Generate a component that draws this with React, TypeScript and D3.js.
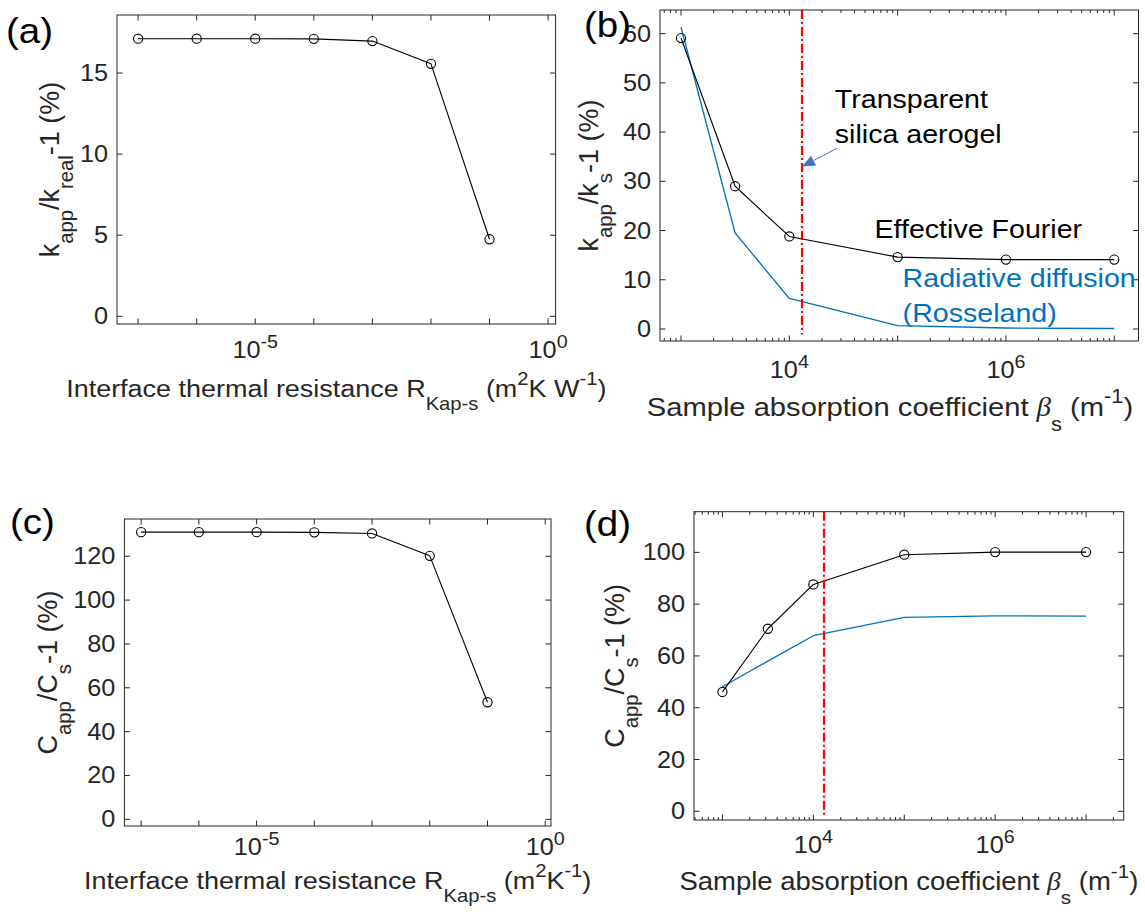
import React, { useEffect, useRef } from 'react';
import * as d3 from 'd3';

// interface resistance sweep (panels a, c)
const resistanceValues = [1e-7, 1e-6, 1e-5, 1e-4, 1e-3, 1e-2, 1e-1];
const conductivityErrorVsR = [17.12, 17.12, 17.12, 17.11, 16.97, 15.57, 4.75];
const capacityErrorVsR = [131.0, 131.0, 131.0, 130.9, 130.4, 120.2, 53.4];

// absorption coefficient sweep (panels b, d)
const absorptionValues = [1e3, 3.16e3, 1e4, 1e5, 1e6, 1e7];
const conductivityFourier = [59.1, 29.0, 18.8, 14.6, 14.1, 14.1];
const conductivityRosseland = [61.3, 19.5, 6.2, 0.7, 0.2, 0.1];
const capacityFourier = [46.1, 70.5, 87.6, 99.1, 100.1, 100.1];
const capacityRosseland = [48.1, 58.0, 67.8, 74.9, 75.5, 75.4];
const aerogelAbsorption = 1.31e4;

// ticks
const resistanceDecades = [-7, -6, -5, -4, -3, -2, -1, 0];
const resistanceLabelled = [-5, 0];
const absorptionDecades = [3, 4, 5, 6, 7];
const absorptionLabelled = [4, 6];
const ticksA = [0, 5, 10, 15];
const ticksB = [0, 10, 20, 30, 40, 50, 60];
const ticksC = [0, 20, 40, 60, 80, 100, 120];
const ticksD = [0, 20, 40, 60, 80, 100];

const SX = 1.1; // the figure is a bit wider than tall
const FONT = '"Liberation Sans", Arial, Helvetica, sans-serif';
const INK = '#262626';
const BLUE = '#0072BD';

type Piece = { t: string; sub?: boolean; sup?: boolean; greek?: boolean };

// rich text with sub/superscripts, stretched horizontally like the source
function richText(parent, x, y, pieces: Piece[], opts: any = {}) {
  const size = opts.size || 24;
  const sx = opts.rotate ? 1 : SX;
  const g = parent
    .append('g')
    .attr('transform', `translate(${x},${y}) scale(${sx},1)${opts.rotate ? ' rotate(-90)' : ''}`);
  const text = g
    .append('text')
    .attr('font-family', FONT)
    .attr('font-size', size)
    .attr('fill', opts.fill || INK)
    .attr('text-anchor', opts.anchor || 'start');
  let offset = 0;
  pieces.forEach((p) => {
    const target = p.sub ? size * (opts.subShift || 0.55) : p.sup ? -size * (opts.supShift || 0.5) : 0;
    const ts = text.append('tspan').attr('dy', target - offset).text(p.t);
    offset = target;
    if (p.sub || p.sup) ts.attr('font-size', size * (opts.small || 0.75));
    if (p.greek) ts.attr('font-family', '"Liberation Serif", serif').attr('font-style', 'italic');
  });
  return text;
}

function drawPanel(svg, cfg) {
  const { box } = cfg;
  const x = d3.scaleLog().domain(cfg.xDomain).range([box.l, box.r]);
  const y = d3.scaleLinear().domain(cfg.yDomain).range([box.b, box.t]);
  const g = svg.append('g');

  // series
  cfg.series.forEach((s) => {
    const pts = s.x.map((v, i) => [v, s.y[i]]);
    const line = d3
      .line()
      .x((d) => x(d[0]))
      .y((d) => y(d[1]));
    g.append('path')
      .attr('d', line(pts))
      .attr('fill', 'none')
      .attr('stroke', s.color)
      .attr('stroke-width', s.width || 1.1)
      .attr('stroke-linejoin', 'round');
    if (s.markers) {
      g.selectAll(null)
        .data(pts)
        .enter()
        .append('circle')
        .attr('cx', (d) => x(d[0]))
        .attr('cy', (d) => y(d[1]))
        .attr('r', 4.6)
        .attr('fill', 'none')
        .attr('stroke', s.color)
        .attr('stroke-width', 1.1);
    }
  });

  // aerogel reference line
  if (cfg.refLine) {
    g.append('line')
      .attr('x1', x(cfg.refLine.x))
      .attr('x2', x(cfg.refLine.x))
      .attr('y1', y(cfg.yDomain[1]))
      .attr('y2', y(cfg.refLine.bottom))
      .attr('stroke', '#FF0000')
      .attr('stroke-width', 2.2)
      .attr('stroke-dasharray', '9,3,2,3');
  }

  // box
  g.append('rect')
    .attr('x', box.l)
    .attr('y', box.t)
    .attr('width', box.r - box.l)
    .attr('height', box.b - box.t)
    .attr('fill', 'none')
    .attr('stroke', INK)
    .attr('stroke-width', 1);

  const tick = (x1, y1, x2, y2) =>
    g.append('line').attr('x1', x1).attr('y1', y1).attr('x2', x2).attr('y2', y2).attr('stroke', INK).attr('stroke-width', 1);

  // x ticks
  cfg.xDecades.forEach((e) => {
    const px = x(Math.pow(10, e));
    tick(px, box.b, px, box.b - 5.5);
    tick(px, box.t, px, box.t + 5.5);
  });
  if (cfg.minor) {
    const [lo, hi] = cfg.xDomain;
    for (let e = Math.floor(Math.log10(lo)); e <= Math.ceil(Math.log10(hi)); e++) {
      for (let k = 2; k <= 9; k++) {
        const v = k * Math.pow(10, e);
        if (v <= lo || v >= hi) continue;
        const px = x(v);
        tick(px, box.b, px, box.b - 3);
        tick(px, box.t, px, box.t + 3);
      }
    }
  }
  cfg.xLabelled.forEach((e) => {
    richText(g, x(Math.pow(10, e)), box.b + cfg.tickDy, [{ t: '10' }, { t: String(e), sup: true }], {
      size: 23,
      anchor: 'middle',
      supShift: 0.43,
      small: 0.78,
    });
  });

  // y ticks
  cfg.yTicks.forEach((v) => {
    const py = y(v);
    tick(box.l, py, box.l + 5.5, py);
    tick(box.r, py, box.r - 5.5, py);
    richText(g, box.l - 9, py + 8, [{ t: String(v) }], { size: 23, anchor: 'end' });
  });

  // axis labels
  const labelCx = cfg.xLabelX !== undefined ? cfg.xLabelX : (box.l + box.r) / 2;
  richText(g, labelCx, cfg.xLabelY, cfg.xLabel, { size: cfg.xLabelSize, anchor: 'middle' });
  richText(g, cfg.yLabelX, (box.t + box.b) / 2, cfg.yLabel, {
    size: 27,
    anchor: 'middle',
    rotate: true,
    subShift: 0.5,
  });

  // panel letter
  richText(g, cfg.letter.x, cfg.letter.y, [{ t: cfg.letter.t }], { size: 35, fill: '#000' });

  return { x, y, g };
}

const resistanceLabelA: Piece[] = [
  { t: 'Interface thermal resistance R' },
  { t: 'Kap-s', sub: true },
  { t: ' (m' },
  { t: '2', sup: true },
  { t: 'K W' },
  { t: '-1', sup: true },
  { t: ')' },
];
const resistanceLabelC: Piece[] = [
  { t: 'Interface thermal resistance R' },
  { t: 'Kap-s', sub: true },
  { t: ' (m' },
  { t: '2', sup: true },
  { t: 'K' },
  { t: '-1', sup: true },
  { t: ')' },
];
const absorptionLabel: Piece[] = [
  { t: 'Sample absorption coefficient ' },
  { t: 'β', greek: true },
  { t: 's', sub: true },
  { t: ' (m' },
  { t: '-1', sup: true },
  { t: ')' },
];

const App = () => {
  const svgRef = useRef<SVGSVGElement>(null);

  useEffect(() => {
    const svg = d3.select(svgRef.current);
    svg.selectAll('*').remove();
    svg.append('rect').attr('width', 1145).attr('height', 916).attr('fill', '#fff');

    // (a)
    drawPanel(svg, {
      box: { l: 117, r: 555.6, t: 15, b: 324 },
      xDomain: [Math.pow(10, -7.36), Math.pow(10, 0.128)],
      yDomain: [-0.475, 18.58],
      xDecades: resistanceDecades,
      xLabelled: resistanceLabelled,
      minor: false,
      yTicks: ticksA,
      tickDy: 34,
      xLabel: resistanceLabelA,
      xLabelSize: 24.5,
      xLabelY: 397,
      yLabel: [{ t: 'k' }, { t: 'app', sub: true }, { t: '/k' }, { t: 'real', sub: true }, { t: '-1 (%)' }],
      yLabelX: 59,
      letter: { t: '(a)', x: 6, y: 43 },
      series: [{ x: resistanceValues, y: conductivityErrorVsR, color: '#000', markers: true }],
    });

    // (b)
    const b = drawPanel(svg, {
      box: { l: 660, r: 1138.5, t: 10, b: 341 },
      xDomain: [Math.pow(10, 2.806), Math.pow(10, 7.224)],
      yDomain: [-2.44, 64.8],
      xDecades: absorptionDecades,
      xLabelled: absorptionLabelled,
      minor: true,
      yTicks: ticksB,
      tickDy: 37,
      xLabel: absorptionLabel,
      xLabelSize: 26.5,
      xLabelX: 890,
      xLabelY: 416,
      yLabel: [{ t: 'k' }, { t: 'app', sub: true }, { t: '/k' }, { t: 's', sub: true }, { t: '-1 (%)' }],
      yLabelX: 598,
      letter: { t: '(b)', x: 584, y: 37 },
      series: [
        { x: absorptionValues, y: conductivityRosseland, color: BLUE, markers: false, width: 1.3 },
        { x: absorptionValues, y: conductivityFourier, color: '#000', markers: true },
      ],
      refLine: { x: aerogelAbsorption, bottom: -1.1 },
    });

    // annotations in (b)
    const tip = [b.x(aerogelAbsorption), b.y(33.0)];
    const tail = [b.x(Math.pow(10, 4.44)), b.y(36.7)];
    const ang = Math.atan2(tail[1] - tip[1], tail[0] - tip[0]);
    const headLen = 13;
    const headW = 5.5;
    const base = [tip[0] + headLen * Math.cos(ang), tip[1] + headLen * Math.sin(ang)];
    b.g.append('line')
      .attr('x1', tail[0])
      .attr('y1', tail[1])
      .attr('x2', base[0])
      .attr('y2', base[1])
      .attr('stroke', '#4472C4')
      .attr('stroke-width', 1);
    b.g.append('polygon')
      .attr(
        'points',
        [
          tip,
          [base[0] - headW * Math.sin(ang), base[1] + headW * Math.cos(ang)],
          [base[0] + headW * Math.sin(ang), base[1] - headW * Math.cos(ang)],
        ]
          .map((p) => p.join(','))
          .join(' ')
      )
      .attr('fill', '#4472C4');

    const note = (v, val, t, fill) =>
      richText(b.g, b.x(Math.pow(10, v)), b.y(val), [{ t }], { size: 26, fill });
    note(4.42, 44.9, 'Transparent', '#000');
    note(4.42, 37.8, 'silica aerogel', '#000');
    note(4.786, 18.4, 'Effective Fourier', '#000');
    note(5.046, 8.6, 'Radiative diffusion', BLUE);
    note(5.046, 1.5, '(Rosseland)', BLUE);

    // (c)
    drawPanel(svg, {
      box: { l: 124.4, r: 551, t: 519, b: 826 },
      xDomain: [Math.pow(10, -7.29), Math.pow(10, 0.1)],
      yDomain: [-3.05, 137],
      xDecades: resistanceDecades,
      xLabelled: resistanceLabelled,
      minor: false,
      yTicks: ticksC,
      tickDy: 29,
      xLabel: resistanceLabelC,
      xLabelSize: 24.5,
      xLabelY: 889,
      yLabel: [{ t: 'C' }, { t: 'app', sub: true }, { t: '/C' }, { t: 's', sub: true }, { t: '-1 (%)' }],
      yLabelX: 57,
      letter: { t: '(c)', x: 10, y: 534 },
      series: [{ x: resistanceValues, y: capacityErrorVsR, color: '#000', markers: true }],
    });

    // (d)
    drawPanel(svg, {
      box: { l: 694, r: 1123.7, t: 511.7, b: 820 },
      xDomain: [Math.pow(10, 2.687), Math.pow(10, 7.414)],
      yDomain: [-3.36, 115.7],
      xDecades: absorptionDecades,
      xLabelled: absorptionLabelled,
      minor: true,
      yTicks: ticksD,
      tickDy: 33,
      xLabel: absorptionLabel,
      xLabelSize: 25,
      xLabelY: 890,
      yLabel: [{ t: 'C' }, { t: 'app', sub: true }, { t: '/C' }, { t: 's', sub: true }, { t: '-1 (%)' }],
      yLabelX: 624,
      letter: { t: '(d)', x: 584, y: 536 },
      series: [
        { x: absorptionValues, y: capacityRosseland, color: BLUE, markers: false, width: 1.3 },
        { x: absorptionValues, y: capacityFourier, color: '#000', markers: true },
      ],
      refLine: { x: aerogelAbsorption, bottom: -1.4 },
    });
  }, []);

  return (
    <svg
      ref={svgRef}
      width={1145}
      height={916}
      style={{ position: 'absolute', left: 0, top: 0, display: 'block' }}
    />
  );
};

export default App;
